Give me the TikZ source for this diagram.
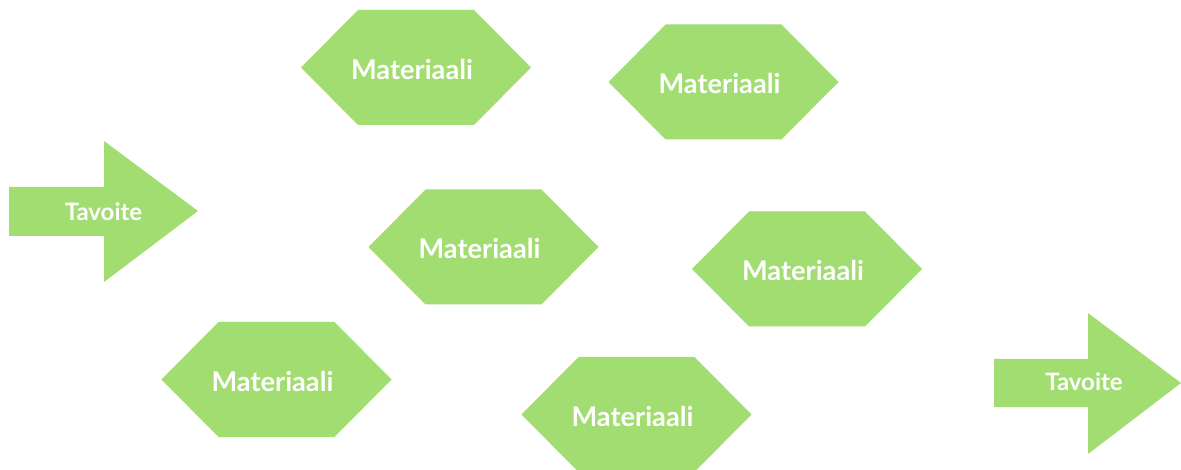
\documentclass[tikz,border=0pt]{standalone}
\usepackage{fontspec}
\setmainfont{Lato}
\definecolor{leaf}{RGB}{162,221,113}
\tikzset{
  shapefill/.style={fill=leaf},
  hextext/.style={text=white,font=\fontsize{27.2}{30}\selectfont\bfseries,inner sep=0pt},
  arrowtext/.style={text=white,font=\fontsize{24}{28}\selectfont\bfseries,inner sep=0pt}
}
% hexagon centred at (#1,#2), width 230, height 115
\newcommand{\myhex}[3]{%
  \fill[shapefill] (#1-115,#2) -- (#1-58,#2-57.5) -- (#1+58,#2-57.5) -- (#1+115,#2)
    -- (#1+58,#2+57.5) -- (#1-58,#2+57.5) -- cycle;
  \node[hextext] (#3) at (#1-4,#2+2) {Materiaali};}
\begin{document}
\begin{tikzpicture}[x=1pt,y=-1pt]
\useasboundingbox (0,0) rectangle (1181,470);
\myhex{416}{67.5}{m1}
\myhex{723.5}{82}{m2}
\myhex{483.5}{247}{m3}
\myhex{807}{269}{m4}
\myhex{276.5}{379.5}{m5}
\myhex{636.5}{414.5}{m6}
% arrow 1
\fill[shapefill] (9,187) -- (104,187) -- (104,141) -- (198,211) -- (104,282) -- (104,236) -- (9,236) -- cycle;
\node[arrowtext] (t1) at (103.5,212) {Tavoite};
% arrow 2
\fill[shapefill] (994,359) -- (1088,359) -- (1088,313) -- (1181,383) -- (1088,454) -- (1088,407) -- (994,407) -- cycle;
\node[arrowtext] (t2) at (1084,382) {Tavoite};
\end{tikzpicture}
\end{document}
